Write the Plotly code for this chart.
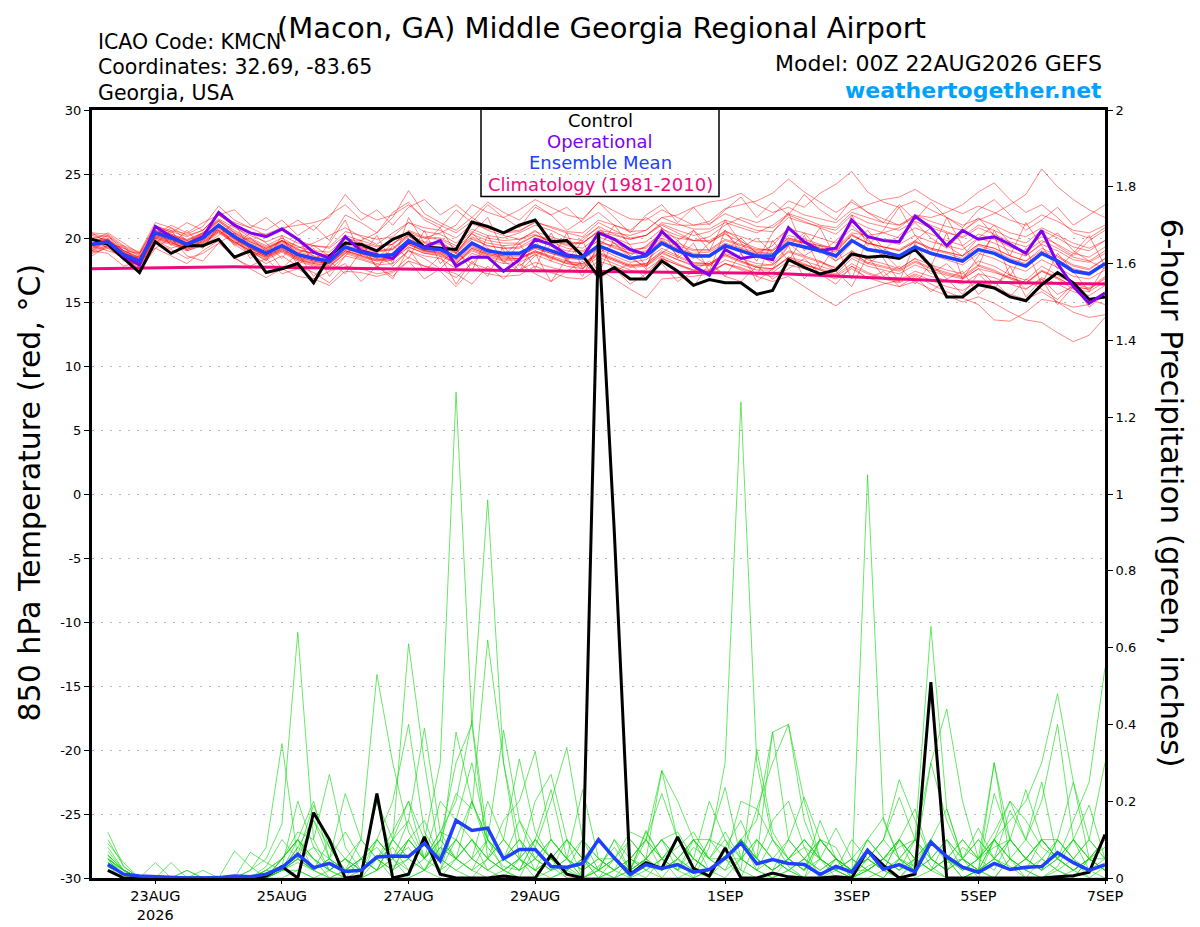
import pandas as pd
import plotly.graph_objects as go

# 6-hourly valid times, 00Z 22AUG2026 -> 00Z 7SEP2026
times = pd.date_range('2026-08-22 00:00', periods=65, freq='6h')
precip_times = times[1:]

tick_dates = ['2026-08-23', '2026-08-25', '2026-08-27', '2026-08-29',
              '2026-09-01', '2026-09-03', '2026-09-05', '2026-09-07']
tick_text = ['23AUG<br>2026', '25AUG', '27AUG', '29AUG', '1SEP', '3SEP', '5SEP', '7SEP']
temp_ticks = [-30, -25, -20, -15, -10, -5, 0, 5, 10, 15, 20, 25, 30]
temp_tick_text = ['-30', '-25', '-20', '-15', '-10', '-5', '0', '5', '10', '15', '20', '25', '30']

# 850 hPa temperature (C)
control_t = [19.9, 19.5, 18.4, 17.3, 19.7, 18.8, 19.4, 19.4, 19.9, 18.5, 19.0, 17.3, 17.6,
             18.0, 16.5, 18.6, 19.6, 19.5, 19.0, 19.9, 20.4, 19.3, 19.2, 19.1, 21.25, 20.9,
             20.4, 21.0, 21.4, 19.7, 19.8, 18.6, 17.0, 17.7, 16.8, 16.8, 18.2, 17.4, 16.3,
             16.75, 16.5, 16.5, 15.6, 15.9, 18.3, 17.7, 17.2, 17.5, 18.75, 18.5, 18.6, 18.4,
             19.1, 17.8, 15.4, 15.4, 16.35, 16.1, 15.4, 15.1, 16.35, 17.3, 16.5, 15.2, 15.4]
oper_t = [19.5, 19.7, 18.6, 17.9, 20.9, 20.1, 19.5, 20.1, 22.0, 21.0, 20.4, 20.1, 20.7,
          19.9, 18.9, 18.4, 20.1, 19.0, 18.7, 18.4, 19.7, 19.3, 19.8, 17.8, 18.5, 18.5,
          17.4, 18.3, 19.9, 19.5, 18.7, 18.5, 20.4, 19.9, 19.1, 18.7, 20.5, 19.4, 17.8,
          17.1, 19.1, 18.4, 18.6, 18.3, 20.8, 19.7, 19.0, 19.2, 21.4, 20.1, 19.8, 19.7,
          21.7, 20.8, 19.4, 20.6, 19.9, 20.1, 19.5, 18.8, 20.6, 18.0, 16.2, 14.9, 15.7]
mean_t = [19.5, 19.7, 18.7, 18.2, 20.4, 20.0, 19.5, 20.0, 21.0, 20.1, 19.4, 18.8, 19.4,
          18.7, 18.4, 18.2, 19.3, 18.9, 18.6, 18.7, 19.8, 19.2, 19.1, 18.5, 19.6, 19.0,
          18.8, 18.8, 19.4, 19.0, 18.6, 18.5, 19.4, 18.9, 18.4, 18.6, 19.6, 19.0, 18.6,
          18.6, 19.4, 19.0, 18.6, 18.6, 19.6, 19.3, 19.0, 18.6, 19.8, 19.1, 18.9, 18.6,
          19.3, 18.8, 18.5, 18.2, 19.1, 18.8, 18.2, 17.8, 18.8, 18.2, 17.4, 17.2, 18.0]
clim_t = [17.6, 17.62, 17.64, 17.66, 17.68, 17.7, 17.72, 17.74, 17.76, 17.75, 17.74, 17.72, 17.7,
          17.68, 17.66, 17.64, 17.62, 17.6, 17.58, 17.56, 17.54, 17.52, 17.5, 17.49, 17.48, 17.47,
          17.46, 17.45, 17.44, 17.43, 17.42, 17.41, 17.4, 17.39, 17.38, 17.37, 17.36, 17.35, 17.34,
          17.33, 17.32, 17.31, 17.3, 17.24, 17.18, 17.12, 17.06, 17.0, 16.94, 16.88, 16.82, 16.76,
          16.7, 16.64, 16.6, 16.58, 16.56, 16.54, 16.52, 16.5, 16.48, 16.46, 16.44, 16.42, 16.4]

member_t = [
    [20.2, 19.8, 19.0, 18.5, 20.6, 20.3, 19.9, 20.4, 21.4, 20.6, 19.9, 19.3, 19.8,
     19.2, 19.6, 20.2, 20.8, 20.1, 19.5, 20.4, 21.2, 20.5, 20.3, 19.6, 20.7, 20.2,
     20.0, 20.4, 21.0, 20.6, 20.0, 19.8, 20.9, 20.3, 19.9, 20.2, 21.1, 20.6, 20.2,
     20.5, 21.2, 20.8, 20.4, 21.0, 21.9, 21.5, 21.0, 20.8, 22.0, 21.6, 21.2, 21.0,
     21.8, 21.3, 20.9, 20.6, 21.4, 21.9, 22.6, 23.4, 25.4, 24.0, 23.0, 22.2, 21.6],
    [19.0, 19.4, 18.3, 17.9, 20.0, 19.6, 19.2, 19.8, 20.7, 19.8, 19.1, 18.6, 19.2,
     18.4, 18.1, 18.0, 19.0, 18.7, 18.3, 18.5, 19.5, 19.0, 18.9, 18.2, 19.3, 18.8,
     18.6, 18.6, 19.2, 18.8, 18.5, 18.3, 19.6, 19.4, 19.0, 19.3, 20.4, 20.0, 19.8,
     20.1, 21.0, 21.6, 21.2, 21.8, 22.9, 22.4, 23.5, 24.2, 25.2, 23.6, 22.8, 22.4,
     22.9, 22.2, 21.6, 21.0, 21.5, 21.0, 20.4, 20.1, 20.8, 20.2, 19.6, 19.2, 19.8],
    [18.8, 19.2, 18.4, 17.8, 19.8, 19.5, 19.0, 19.5, 20.4, 19.6, 18.9, 18.3, 18.9,
     18.2, 17.8, 17.5, 18.6, 18.3, 17.9, 18.0, 19.0, 18.6, 18.4, 17.6, 18.8, 18.4,
     18.0, 18.1, 18.7, 18.2, 17.8, 17.6, 18.5, 18.0, 17.5, 17.2, 18.4, 17.9, 17.4,
     17.3, 18.0, 17.7, 17.2, 17.0, 17.9, 17.6, 17.2, 16.8, 17.6, 16.9, 16.5, 16.2,
     16.6, 16.0, 15.5, 15.0, 15.4, 14.9, 14.2, 13.6, 13.4, 12.6, 11.9, 12.4, 13.8],
    [19.8, 20.0, 19.0, 18.4, 20.2, 19.8, 19.3, 19.7, 20.6, 19.7, 19.0, 18.4, 19.0,
     18.3, 17.9, 17.7, 18.8, 18.4, 18.0, 18.3, 19.3, 18.8, 18.7, 18.0, 19.1, 18.6,
     18.3, 18.4, 18.9, 18.5, 18.0, 17.9, 18.8, 18.3, 17.8, 17.9, 18.8, 18.3, 17.8,
     17.9, 18.6, 18.1, 17.7, 17.6, 18.5, 18.0, 17.5, 17.0, 17.8, 17.2, 16.8, 16.5,
     17.1, 16.4, 15.8, 15.3, 14.8, 13.6, 13.5, 14.2, 15.2, 15.0, 14.6, 14.8, 15.6],
    [20.3, 20.1, 19.2, 18.7, 20.8, 20.5, 20.1, 20.6, 21.8, 21.0, 20.4, 20.3, 20.8,
     21.0, 21.2, 21.6, 23.4, 22.0, 21.4, 21.8, 22.6, 21.6, 21.0, 20.4, 21.3, 20.6,
     20.2, 19.9, 20.3, 19.7, 19.2, 19.0, 19.8, 19.2, 18.8, 18.9, 19.8, 19.2, 18.8,
     18.9, 19.6, 19.2, 18.9, 18.8, 19.9, 19.6, 19.2, 18.9, 20.2, 19.6, 19.3, 19.1,
     19.8, 19.2, 18.9, 18.6, 19.5, 19.2, 18.6, 18.2, 19.0, 18.5, 17.8, 17.5, 18.4],
    [19.6, 19.9, 18.9, 18.3, 20.5, 20.2, 19.7, 20.2, 21.3, 20.4, 19.7, 19.2, 19.7,
     19.0, 18.8, 18.7, 19.9, 19.8, 20.4, 21.6, 23.7, 21.9, 21.2, 20.6, 21.6, 20.8,
     20.4, 20.5, 21.3, 20.8, 20.4, 20.1, 21.2, 20.6, 20.0, 20.2, 21.0, 20.4, 19.8,
     19.7, 20.3, 19.7, 19.2, 19.0, 20.0, 19.6, 19.2, 18.7, 19.8, 19.2, 18.9, 18.5,
     19.2, 18.7, 18.3, 17.9, 18.8, 18.4, 17.8, 17.4, 18.3, 17.7, 17.0, 16.8, 17.5],
    [19.2, 19.5, 18.5, 18.0, 20.0, 19.7, 19.1, 19.6, 20.5, 19.5, 18.7, 18.0, 18.6,
     17.8, 17.3, 16.5, 17.8, 17.6, 17.2, 17.4, 18.5, 17.8, 17.4, 16.2, 17.6, 17.2,
     17.0, 17.1, 17.8, 17.3, 16.9, 16.8, 17.6, 16.8, 16.0, 15.3, 16.8, 16.9, 17.0,
     17.2, 18.0, 17.6, 17.2, 17.3, 18.2, 17.9, 17.6, 17.2, 18.4, 17.8, 17.5, 17.2,
     17.9, 17.4, 17.1, 16.8, 17.6, 17.3, 16.9, 16.5, 17.4, 16.9, 16.2, 16.0, 16.8],
    [19.9, 19.6, 18.8, 18.4, 20.3, 20.0, 19.6, 20.1, 21.1, 20.3, 19.6, 19.0, 19.6,
     18.9, 18.6, 18.4, 19.5, 19.2, 18.9, 19.1, 20.3, 20.0, 20.4, 21.0, 22.6, 22.0,
     21.6, 22.2, 23.0, 22.4, 21.8, 21.5, 22.8, 22.1, 21.5, 21.4, 22.2, 21.6, 21.0,
     21.1, 21.9, 21.4, 20.9, 20.8, 21.8, 21.3, 20.8, 20.3, 21.4, 20.8, 20.4, 20.0,
     20.8, 20.3, 19.8, 19.4, 20.3, 19.9, 19.3, 18.9, 19.8, 19.2, 18.5, 18.2, 19.0],
    [19.3, 19.6, 18.6, 18.1, 20.1, 19.8, 19.3, 19.8, 20.8, 19.9, 19.2, 18.6, 19.1,
     18.5, 18.2, 18.0, 19.0, 18.6, 18.3, 18.4, 19.5, 18.9, 18.8, 18.1, 19.2, 18.7,
     18.5, 18.4, 19.0, 18.6, 18.2, 18.0, 18.9, 18.4, 17.9, 18.0, 19.0, 18.5, 18.0,
     18.0, 18.8, 18.4, 18.0, 17.9, 19.0, 18.6, 18.2, 17.6, 19.0, 18.3, 18.0, 17.6,
     18.4, 17.9, 17.5, 17.2, 18.2, 17.8, 17.1, 16.7, 17.8, 17.1, 16.4, 16.1, 17.0],
    [19.7, 19.8, 18.9, 18.4, 20.4, 20.1, 19.6, 20.0, 21.0, 20.2, 19.5, 18.9, 19.5,
     18.8, 18.5, 18.3, 19.4, 19.0, 18.7, 18.8, 19.9, 19.4, 19.3, 18.8, 19.9, 19.4,
     19.2, 19.3, 20.0, 19.8, 19.5, 19.6, 20.6, 20.4, 20.2, 20.6, 21.6, 21.8, 22.4,
     22.8, 23.0, 23.5, 22.6, 22.0, 22.4, 21.8, 21.5, 21.2, 22.2, 22.6, 23.0, 23.2,
     23.8, 23.0, 22.4, 21.9, 22.5, 22.0, 21.4, 21.0, 21.8, 21.3, 20.6, 20.4, 21.0],
    [19.1, 19.4, 18.4, 17.8, 19.9, 19.6, 19.1, 19.6, 20.5, 19.7, 19.0, 18.5, 19.0,
     18.3, 18.0, 17.8, 18.9, 18.5, 18.2, 18.3, 19.3, 18.8, 18.6, 18.0, 19.0, 18.5,
     18.2, 18.3, 18.9, 18.4, 18.0, 17.8, 18.7, 18.2, 17.7, 17.8, 18.6, 18.0, 17.5,
     17.4, 18.0, 17.5, 17.0, 16.6, 17.0, 16.2, 15.4, 14.7, 15.6, 16.0, 16.4, 16.7,
     17.4, 17.0, 16.7, 16.4, 17.2, 16.9, 16.4, 16.0, 16.9, 16.4, 15.8, 15.5, 16.3],
    [19.4, 19.9, 18.8, 18.3, 20.6, 20.2, 19.6, 20.3, 21.4, 20.5, 19.8, 19.2, 19.8,
     19.1, 18.8, 18.6, 19.7, 19.3, 19.0, 19.2, 20.2, 19.7, 19.6, 19.0, 20.1, 19.6,
     19.4, 19.5, 20.2, 19.9, 19.6, 19.6, 20.5, 20.2, 19.9, 20.2, 21.2, 21.0, 21.0,
     21.3, 22.3, 22.6, 22.9, 23.5, 24.6, 23.6, 22.8, 22.0, 22.8, 22.0, 21.5, 21.0,
     21.6, 21.0, 20.5, 20.0, 20.8, 20.3, 19.7, 19.3, 20.1, 19.5, 18.8, 18.5, 19.3],
    [19.8, 19.9, 19.0, 18.5, 20.8, 20.3, 19.8, 20.3, 21.3, 20.4, 19.7, 19.1, 19.8,
     19.1, 18.8, 18.6, 19.7, 19.3, 19.0, 19.1, 20.1, 19.6, 19.5, 18.9, 20.0, 19.4,
     19.2, 19.2, 19.8, 19.4, 19.0, 18.9, 19.8, 19.3, 18.8, 19.0, 20.0, 19.4, 19.0,
     19.0, 19.8, 19.4, 19.0, 19.0, 20.0, 19.7, 19.4, 19.0, 20.2, 19.6, 19.3, 19.0,
     19.7, 19.2, 18.9, 18.6, 19.5, 19.2, 18.6, 18.2, 19.2, 18.6, 17.9, 17.6, 18.4],
    [18.9, 19.3, 18.3, 17.7, 19.6, 19.1, 18.4, 18.8, 19.6, 18.5, 17.6, 16.9, 17.6,
     17.0, 16.8, 16.3, 17.4, 17.3, 17.0, 17.3, 18.2, 17.8, 17.6, 16.9, 18.0, 17.6,
     17.4, 17.5, 18.1, 17.7, 17.4, 17.3, 18.2, 17.8, 17.3, 17.5, 18.4, 17.9, 17.5,
     17.5, 18.3, 17.9, 17.5, 17.5, 18.5, 18.2, 17.8, 17.4, 18.6, 18.0, 17.7, 17.4,
     18.1, 17.6, 17.2, 16.9, 17.8, 17.4, 16.8, 16.4, 17.4, 16.8, 16.0, 15.8, 16.6],
    [20.0, 20.2, 19.3, 18.8, 20.9, 20.6, 20.3, 20.9, 22.5, 21.4, 20.8, 20.2, 20.6,
     19.8, 19.4, 19.2, 20.2, 19.8, 19.4, 19.5, 20.5, 20.0, 19.9, 19.2, 20.3, 19.8,
     19.6, 19.6, 20.2, 19.8, 19.4, 19.2, 20.1, 19.6, 19.1, 19.2, 20.2, 19.6, 19.1,
     19.1, 19.9, 19.5, 19.1, 19.1, 20.2, 19.9, 19.5, 19.1, 20.3, 19.6, 19.3, 19.0,
     19.7, 19.1, 18.8, 18.4, 19.4, 19.0, 18.4, 18.0, 18.9, 18.3, 17.6, 17.3, 18.1],
    [19.5, 19.6, 18.6, 18.1, 20.2, 19.9, 19.4, 19.9, 20.9, 20.0, 19.3, 18.7, 19.3,
     18.6, 18.3, 18.1, 19.2, 18.8, 18.5, 18.6, 19.7, 19.1, 19.0, 18.4, 19.5, 19.0,
     18.8, 18.8, 19.4, 19.0, 18.6, 18.5, 19.4, 18.9, 18.4, 18.6, 19.6, 19.1, 18.7,
     18.7, 19.5, 19.1, 18.8, 18.8, 19.8, 19.6, 19.4, 19.2, 20.4, 20.2, 20.4, 20.8,
     21.8, 21.6, 22.0, 22.6, 23.6, 24.3, 23.0, 22.0, 22.6, 21.6, 20.4, 20.0, 20.8],
    [19.6, 19.5, 18.5, 18.0, 20.1, 19.7, 19.2, 19.7, 20.6, 19.7, 19.0, 18.5, 19.1,
     18.4, 18.0, 17.9, 19.0, 18.6, 18.2, 18.4, 19.5, 19.0, 18.8, 18.0, 19.2, 18.7,
     18.4, 18.4, 19.0, 18.5, 18.1, 18.0, 18.8, 18.3, 17.8, 18.0, 18.9, 18.3, 17.9,
     17.9, 18.7, 18.2, 17.8, 17.9, 18.9, 18.5, 18.1, 17.7, 18.8, 18.1, 17.8, 17.5,
     18.2, 17.7, 17.3, 17.0, 17.9, 17.5, 16.9, 16.5, 17.5, 16.9, 16.2, 16.0, 16.9],
    [19.2, 19.7, 18.8, 18.3, 20.5, 20.2, 19.8, 20.4, 21.5, 20.8, 20.2, 19.7, 20.2,
     19.6, 19.4, 19.3, 20.5, 20.2, 19.9, 20.1, 21.2, 20.8, 20.6, 20.0, 21.1, 20.7,
     20.5, 20.6, 21.2, 20.9, 20.5, 20.4, 21.4, 21.0, 20.5, 20.6, 21.6, 21.1, 20.7,
     20.7, 21.4, 21.0, 20.6, 20.5, 21.6, 21.2, 20.9, 20.6, 21.8, 21.2, 20.9, 20.6,
     21.3, 20.8, 20.4, 20.1, 21.0, 20.6, 20.0, 19.6, 20.6, 20.0, 19.3, 19.0, 19.8],
    [19.4, 19.8, 18.8, 18.2, 20.3, 19.9, 19.4, 19.9, 20.9, 19.9, 19.2, 18.6, 19.2,
     18.5, 18.2, 18.0, 19.1, 18.8, 18.4, 18.5, 19.6, 19.0, 18.9, 18.3, 19.4, 18.8,
     18.6, 18.6, 19.2, 18.8, 18.4, 18.3, 19.2, 18.6, 18.1, 18.3, 19.2, 18.6, 18.1,
     18.0, 18.7, 18.2, 17.7, 17.6, 18.4, 17.9, 17.5, 17.1, 18.0, 17.3, 16.9, 16.6,
     17.2, 16.7, 16.2, 15.9, 16.6, 16.2, 15.6, 15.2, 15.8, 15.0, 14.2, 13.8, 14.0],
    [20.4, 20.3, 19.4, 18.9, 21.2, 20.8, 20.2, 20.6, 21.8, 20.9, 20.0, 19.4, 20.0,
     19.3, 19.0, 18.9, 20.0, 19.6, 19.3, 19.5, 20.6, 20.1, 20.0, 19.4, 20.5, 20.0,
     19.8, 19.9, 20.5, 20.1, 19.7, 19.6, 20.5, 20.0, 19.5, 19.7, 20.7, 20.2, 19.8,
     19.8, 20.5, 20.1, 19.7, 19.7, 20.7, 20.4, 20.0, 19.6, 20.7, 20.1, 19.8, 19.5,
     20.2, 19.7, 19.4, 19.1, 20.0, 19.6, 19.0, 18.6, 19.5, 19.0, 18.3, 18.1, 18.8],
    [19.0, 19.9, 18.2, 18.6, 19.6, 20.6, 19.0, 19.4, 20.2, 21.2, 19.0, 18.2, 20.2,
     17.8, 19.2, 17.0, 18.6, 19.8, 17.6, 19.4, 18.4, 20.6, 18.0, 19.2, 17.4, 20.2,
     18.0, 19.6, 17.6, 20.4, 18.2, 19.8, 17.2, 20.0, 18.6, 17.6, 20.8, 18.4, 19.6,
     17.4, 20.6, 18.8, 17.0, 19.8, 18.2, 20.2, 17.6, 19.4, 16.8, 20.0, 18.4, 16.6,
     19.6, 17.8, 20.4, 16.8, 18.6, 20.2, 17.0, 19.2, 16.4, 18.8, 17.4, 15.8, 17.8],
    [20.0, 19.2, 19.4, 17.8, 20.9, 19.4, 20.6, 19.2, 21.0, 19.4, 20.4, 19.6, 18.4,
     20.0, 18.0, 19.6, 21.4, 18.6, 20.2, 18.0, 21.6, 19.6, 20.8, 18.8, 20.4, 21.6,
     19.0, 17.4, 19.8, 18.2, 20.4, 17.6, 19.2, 21.0, 19.4, 17.8, 20.0, 18.6, 20.6,
     19.0, 21.4, 19.6, 18.2, 20.4, 22.0, 19.0, 20.8, 18.4, 21.8, 19.4, 20.6, 22.4,
     20.2, 18.8, 21.6, 19.4, 17.8, 20.6, 18.6, 21.2, 19.4, 17.6, 18.8, 20.2, 17.8],
    [18.6, 19.4, 18.8, 17.4, 19.2, 20.0, 18.6, 18.2, 19.6, 20.4, 18.4, 19.2, 17.6,
     18.8, 17.0, 18.2, 17.2, 19.0, 17.8, 16.8, 19.2, 17.4, 18.6, 16.4, 18.2, 17.0,
     19.4, 17.8, 18.8, 16.6, 18.4, 17.0, 19.6, 17.4, 18.0, 16.8, 18.6, 17.2, 16.2,
     18.0, 17.0, 18.8, 16.6, 17.6, 19.4, 16.8, 18.2, 17.4, 16.2, 18.6, 17.0, 17.8,
     16.4, 18.0, 16.8, 15.6, 17.2, 16.0, 17.8, 15.4, 16.8, 14.8, 16.2, 15.0, 15.8],
    [19.8, 20.4, 19.6, 18.8, 21.0, 20.4, 21.2, 20.6, 21.8, 22.2, 21.0, 20.6, 21.4,
     20.2, 21.0, 19.8, 21.8, 21.2, 20.4, 22.0, 22.8, 21.4, 20.8, 22.2, 21.2, 22.6,
     21.6, 20.8, 22.4, 21.8, 20.6, 21.4, 22.8, 21.6, 20.4, 21.8, 22.6, 21.2, 22.4,
     21.0, 22.2, 23.2, 21.6, 22.8, 21.8, 23.4, 22.2, 21.4, 23.0, 22.0, 21.2, 22.6,
     21.4, 22.8, 21.6, 20.8, 22.2, 23.0, 21.8, 20.6, 21.4, 22.4, 21.0, 21.8, 22.6],
    [19.0, 18.8, 17.8, 18.2, 19.2, 18.6, 18.0, 19.0, 19.8, 18.4, 17.8, 18.4, 17.2,
     17.6, 16.8, 17.4, 18.0, 16.6, 17.8, 17.0, 18.2, 16.8, 17.6, 17.2, 16.4, 17.8,
     16.8, 18.0, 17.2, 16.6, 17.4, 18.2, 16.8, 17.6, 16.4, 17.2, 18.0, 16.6, 17.4,
     18.2, 17.0, 16.6, 17.8, 16.8, 17.6, 18.4, 17.2, 16.4, 17.8, 16.8, 17.4, 16.2,
     17.0, 15.8, 16.8, 17.4, 15.6, 16.6, 15.4, 16.8, 16.0, 15.2, 16.4, 14.6, 15.6],
    [19.6, 20.2, 19.0, 18.8, 20.2, 21.0, 20.4, 21.2, 21.8, 21.2, 20.8, 21.6, 20.6,
     21.4, 20.6, 21.8, 22.6, 21.4, 22.2, 21.0, 22.4, 23.0, 21.8, 22.6, 21.6, 22.8,
     22.0, 21.4, 22.6, 21.8, 22.4, 21.2, 22.0, 21.0, 20.6, 21.6, 20.8, 19.8, 20.6,
     19.6, 20.4, 19.2, 20.0, 18.8, 19.6, 18.6, 19.4, 18.2, 19.0, 18.0, 18.8, 17.6,
     18.4, 17.2, 18.0, 16.8, 17.6, 16.4, 17.2, 16.0, 16.8, 15.6, 16.2, 15.2, 14.8],
    [19.4, 19.0, 18.6, 18.0, 19.8, 19.2, 19.6, 20.4, 20.6, 19.6, 20.0, 19.0, 19.8,
     18.8, 19.4, 18.6, 20.0, 19.2, 18.4, 19.6, 20.2, 19.0, 19.8, 18.8, 20.4, 19.2,
     18.6, 19.8, 20.6, 19.4, 18.8, 20.0, 20.8, 19.6, 18.6, 19.4, 20.4, 19.2, 18.4,
     19.6, 20.6, 19.8, 18.8, 19.4, 20.8, 19.6, 18.8, 19.8, 21.0, 19.8, 19.0, 20.2,
     21.2, 20.0, 19.2, 20.4, 21.6, 20.2, 19.4, 18.8, 20.4, 19.4, 18.6, 19.8, 20.6],
    [20.4, 19.6, 19.2, 18.6, 20.0, 20.8, 19.8, 19.2, 20.8, 20.0, 19.2, 18.6, 19.8,
     19.4, 18.6, 17.8, 18.8, 19.6, 18.8, 17.8, 19.0, 18.4, 17.6, 18.8, 18.0, 19.2,
     18.2, 17.4, 18.6, 19.4, 18.2, 17.6, 18.8, 19.6, 18.4, 17.8, 18.8, 19.8, 18.6,
     17.8, 19.0, 20.0, 18.8, 18.0, 19.4, 20.4, 19.0, 18.2, 19.6, 20.6, 19.2, 18.4,
     19.8, 20.8, 19.4, 18.6, 20.0, 21.0, 19.6, 18.6, 19.6, 20.4, 19.0, 18.2, 17.6],
]

# 6-hour precipitation (inches), from 06Z 22AUG
control_p = [.02, 0, 0, 0, 0, 0, 0, 0, 0, 0, .005, .03, 0, .17, .1, 0,
             .005, .22, 0, .01, .107, .01, 0, 0, 0, .005, 0, 0, .06, .01, 0, 1.68,
             .9, .01, .04, .025, .107, .025, .005, .078, 0, 0, .013, .003, 0, 0, .003, 0,
             .072, .033, 0, .01, .51, 0, 0, 0, 0, 0, 0, 0, .003, .006, .015, .113]
mean_p = [.035, .01, .005, .003, .003, 0, 0, .001, .005, .003, .01, .027, .062, .027, .038, .017,
          .02, .055, .057, .056, .09, .045, .15, .124, .13, .05, .074, .074, .03, .028, .038, .1,
          .052, .009, .035, .025, .035, .015, .022, .052, .091, .037, .048, .038, .035, .009, .03, .015,
          .072, .023, .035, .016, .093, .056, .028, .015, .038, .022, .028, .03, .066, .04, .02, .035]

member_p = [
    [.12, .03, 0, 0, 0, 0, 0, 0, 0, .02, .05, .14, .64, .1, .02, 0,
     0, .05, .12, .2, .1, .3, 1.265, .4, .05, .02, 0, .08, .03, 0, 0, .02,
     0, 0, .05, .1, .02, 0, .08, .3, 1.24, .3, .1, .03, 0, .05, 0, 0,
     .02, 0, .05, .1, .03, 0, 0, .02, .3, .05, 0, 0, .03, .1, .02, 0],
    [.08, .02, 0, 0, 0, 0, 0, 0, 0, 0, .02, .05, .1, .2, .05, 0,
     0, .02, .1, .15, .05, .1, .3, .4, .985, .3, .05, .02, 0, .02, .05, 0,
     0, .02, .12, .05, 0, 0, .02, .05, 0, .1, .05, .02, 0, .1, .05, 0,
     .03, .05, .08, .1, .655, .18, .05, 0, .1, .2, .15, .08, .05, .15, .25, .547],
    [.05, 0, 0, .04, 0, .02, 0, 0, .07, .03, 0, .02, .05, .15, .08, .02,
     .02, .2, .1, .61, .3, .05, .1, .2, .08, .03, .02, .1, .05, 0, 0, .03,
     .08, .02, .05, .28, .1, .05, .02, .05, .1, .05, .15, .2, .08, .05, .02, 0,
     1.05, .15, .05, .03, .1, .04, .05, .02, .1, .15, .2, .3, .48, .25, .1, .05],
    [.04, .02, 0, 0, 0, 0, 0, 0, 0, 0, 0, .03, .2, .08, .05, .02,
     .1, .53, .3, .12, .05, .1, .22, .18, .62, .3, .1, .05, .02, .03, 0, 0,
     .02, 0, .05, .1, .05, .02, .1, .08, .15, .05, .38, .4, .2, .05, .02, 0,
     .05, .02, 0, .04, .1, .05, 0, .02, .05, .03, 0, .05, .02, 0, .05, .02],
    [.06, 0, 0, 0, 0, 0, 0, 0, 0, .02, .08, .35, .05, .02, .1, .05,
     0, .1, .2, .4, .12, .05, .1, .05, .02, 0, .05, .02, .05, .1, 0, .02,
     0, .05, .03, .02, .1, .05, .02, .05, .1, .02, 0, .05, .08, 0, .05, .02,
     .1, .05, .02, .1, .3, .44, .2, .05, .3, .1, .05, .02, .1, .05, 0, .03],
    [.03, .01, 0, 0, 0, 0, 0, 0, 0, 0, 0, .05, .1, .05, 0, .02,
     .05, .1, .05, .15, .39, .12, .2, .41, .1, .05, .02, .05, .1, .05, 0, 0,
     .05, .02, 0, .05, .08, .12, .05, .05, .1, .15, .38, .1, .05, .02, .05, .02,
     .05, .02, .1, .05, .02, .05, .1, .05, .08, .1, .23, .1, .05, .02, .05, .1],
    [.1, .03, 0, 0, 0, 0, 0, 0, 0, 0, .03, .1, .05, .02, .05, .12,
     .05, .08, .03, .05, .1, .02, .15, .3, .1, .385, .15, .05, .02, .1, .05, 0,
     .02, .1, .05, .02, .05, .1, .05, .1, .02, .335, .12, .05, .02, .1, .08, 0,
     .02, .05, .1, .02, .05, .1, .02, .05, .12, .2, .1, .2, .4, .1, .05, .02],
    [.06, .02, 0, 0, 0, 0, 0, 0, 0, 0, .02, .05, .12, .1, .27, .08,
     .02, .1, .05, .08, .02, .1, .05, .2, .1, .05, .15, .08, .2, .34, .1, .02,
     .05, .02, .1, .05, .02, .08, .05, .12, .05, .02, .1, .05, .02, .15, .05, .02,
     .05, .1, .256, .15, .05, .02, .08, .05, .1, .02, .05, .1, .05, .02, .05, .08],
    [.05, 0, 0, 0, 0, 0, 0, 0, 0, 0, 0, .02, .08, .05, .02, .05,
     .02, .05, .1, .2, .05, .12, .1, .05, .2, .1, .31, .12, .05, .02, .05, .1,
     .05, .12, .1, .28, .2, .1, .05, .02, .1, .05, .02, .05, .1, .05, .02, .05,
     .1, .05, .02, .05, .1, .05, .02, .05, .1, .05, .1, .25, .05, .02, .05, .1],
    [.09, .04, 0, 0, 0, 0, 0, 0, 0, 0, 0, .02, .05, .02, 0, 0,
     .05, .02, .1, .05, .02, .08, .05, .1, .05, .15, .2, .33, .1, .05, .23, .05,
     .02, .05, .1, .05, .02, .1, .1, .236, .05, .1, .05, .02, .05, .1, .05, .02,
     .02, .05, .1, .05, .02, .1, .05, .02, .22, .1, .05, .02, .05, .1, .05, .02],
    [.05, .02, 0, 0, .04, 0, .02, 0, 0, 0, 0, .05, .1, .02, .05, .22,
     .1, .05, .02, .1, .05, .2, .15, .1, .05, .1, .05, .2, .27, .1, .05, .02,
     .1, .02, .05, .1, .05, .02, .1, .05, .2, .18, .3, .4, .15, .05, .02, .1,
     .05, .02, .1, .05, .02, .05, .1, .05, .02, .1, .05, .1, .1, .25, .05, .02],
    [.07, .02, 0, 0, 0, 0, 0, 0, 0, .067, .04, .02, .1, .05, .02, .05,
     .02, .2, .05, .1, .15, .05, .38, .2, .1, .05, .02, .1, .05, .02, .1, .05,
     .02, .05, .1, .02, .05, .1, .02, .05, .1, .05, .02, .05, .1, .05, .13, .05,
     .02, .05, .1, .05, .3, .15, .05, .02, .1, .05, .02, .1, .05, .1, .05, .02],
    [.04, .01, 0, 0, 0, 0, 0, 0, 0, 0, 0, .02, .04, .02, 0, .02,
     .05, .02, .1, .05, .02, .08, .05, .1, .02, .05, .1, .02, .05, .1, .05, .02,
     .05, .02, .124, .05, .02, .05, .2, .1, .05, .02, .05, .1, .05, .02, .05, .02,
     .1, .157, .05, .02, .05, .1, .05, .02, .05, .1, .05, .02, .1, .05, .1, .3],
    [.03, 0, 0, 0, 0, .02, 0, 0, 0, 0, 0, .02, .05, .02, .05, .02,
     .05, .02, .05, .1, .05, .02, .1, .05, .02, .05, .1, .05, .02, .05, .1, .05,
     .02, .05, .02, .05, .1, .05, .02, .05, .1, .05, .02, .05, .02, .1, .05, .02,
     .05, .02, .05, .1, .05, .02, .05, .13, .05, .02, .05, .1, .05, .02, .05, .05],
    [.05, .02, 0, 0, 0, 0, 0, 0, 0, 0, .02, .02, .08, .15, .05, .02,
     .02, .05, .08, .02, .1, .05, .02, .05, .1, .02, .05, .1, .05, .02, .05, .02,
     .1, .05, .02, .05, .1, .05, .02, .05, .1, .05, .02, .1, .21, .1, .05, .02,
     .05, .1, .21, .1, .05, .02, .05, .1, .05, .176, .1, .05, .02, .05, .1, .05],
    [.06, .02, 0, 0, 0, 0, 0, 0, 0, 0, 0, .05, .1, .05, .02, .05,
     .1, .05, .02, .1, .05, .12, .05, .02, .05, .1, .05, .02, .1, .05, .02, .05,
     .02, .05, .1, .22, .1, .05, .02, .05, .05, .18, .1, .05, .02, .05, .02, .05,
     .02, .05, .02, .05, .1, .18, .05, .02, .05, .1, .05, .02, .05, .1, .19, .05],
    [.04, .01, 0, 0, 0, 0, 0, 0, 0, 0, 0, .02, .05, .08, .02, .05,
     .02, .05, .02, .05, .1, .02, .05, .1, .05, .02, .05, .1, .23, .05, .02, .1,
     .05, .02, .05, .1, .12, .05, .02, .05, .1, .05, .02, .05, .1, .05, .02, .05,
     .02, .05, .1, .18, .05, .02, .05, .1, .05, .02, .05, .1, .05, .02, .05, .1],
    [.02, 0, 0, 0, 0, 0, 0, 0, 0, 0, 0, 0, .02, 0, 0, 0,
     .02, .05, 0, 0, .02, .05, .02, 0, .05, .02, 0, 0, .02, .05, 0, 0,
     0, .02, .05, 0, 0, .02, 0, .05, .02, 0, 0, .02, 0, 0, .05, 0,
     0, .02, 0, .05, .02, 0, 0, .02, 0, .05, .02, 0, 0, .02, 0, 0],
    [.05, .02, 0, 0, 0, 0, 0, 0, 0, 0, .01, .03, .06, .19, .08, .02,
     .05, .1, .05, .02, .05, .1, .05, .02, .1, .05, .02, .05, .1, .05, .02, .05,
     .05, .1, .05, .02, .05, .1, .05, .02, .05, .1, .05, .02, .05, .1, .05, .02,
     .05, .1, .05, .02, .1, .05, .02, .05, .1, .05, .02, .05, .1, .05, .02, .05],
    [.03, .01, 0, 0, 0, 0, 0, 0, 0, 0, 0, .02, .02, 0, .02, 0,
     0, .02, .05, 0, .02, 0, .05, .02, 0, .02, .05, 0, 0, .02, 0, .02,
     .05, 0, .02, 0, .05, 0, .02, 0, .05, .02, 0, .02, .05, 0, .02, 0,
     .02, 0, .05, 0, .02, .05, 0, .02, 0, .05, .02, 0, .02, 0, .05, .02],
]

fig = go.Figure()

for m in member_t:
    fig.add_trace(go.Scatter(x=times, y=m, mode='lines', showlegend=False, hoverinfo='skip',
                             line=dict(color='rgba(255,0,0,0.6)', width=0.8)))
fig.add_trace(go.Scatter(x=times, y=clim_t, mode='lines', name='Climatology',
                         line=dict(color='#ee0a7e', width=3)))
fig.add_trace(go.Scatter(x=times, y=control_t, mode='lines', name='Control',
                         line=dict(color='black', width=3)))
fig.add_trace(go.Scatter(x=times, y=oper_t, mode='lines', name='Operational',
                         line=dict(color='#8000f0', width=3)))
fig.add_trace(go.Scatter(x=times, y=mean_t, mode='lines', name='Ensemble Mean',
                         line=dict(color='#2040ff', width=3.5)))

for m in member_p:
    fig.add_trace(go.Scatter(x=precip_times, y=m, mode='lines', yaxis='y2', showlegend=False,
                             hoverinfo='skip', line=dict(color='rgba(20,215,20,0.8)', width=0.8)))
fig.add_trace(go.Scatter(x=precip_times, y=control_p, mode='lines', yaxis='y2',
                         line=dict(color='black', width=3)))
fig.add_trace(go.Scatter(x=precip_times, y=mean_p, mode='lines', yaxis='y2',
                         line=dict(color='#2040ff', width=3.5)))

font = 'DejaVu Sans, Verdana, sans-serif'

# page pixel -> paper coords (plot area spans x 92..1105, y 110..883 on the page)
def px(x):
    return (x - 92) / 1013

def py(y):
    return (883 - y) / 773

notes = [
    dict(x=px(601), y=py(27), text='(Macon, GA) Middle Georgia Regional Airport', size=29, color='black', xanchor='center'),
    dict(x=px(96), y=py(42), text='ICAO Code: KMCN', size=20.5, color='black', xanchor='left'),
    dict(x=px(96), y=py(67), text='Coordinates: 32.69, -83.65', size=20.5, color='black', xanchor='left'),
    dict(x=px(96), y=py(93), text='Georgia, USA', size=20.5, color='black', xanchor='left'),
    dict(x=px(1104), y=py(63), text='Model: 00Z 22AUG2026 GEFS', size=22, color='black', xanchor='right'),
    dict(x=px(1104), y=py(90), text='<b>weathertogether.net</b>', size=22, color='#00a2ff', xanchor='right'),
    dict(x=px(600), y=py(121), text='Control', size=18, color='black', xanchor='center'),
    dict(x=px(600), y=py(142), text='Operational', size=18, color='#8000f0', xanchor='center'),
    dict(x=px(600), y=py(163), text='Ensemble Mean', size=18, color='#2040ff', xanchor='center'),
    dict(x=px(600), y=py(185), text='Climatology (1981-2010)', size=18, color='#ee0a7e', xanchor='center'),
]
for n in notes:
    fig.add_annotation(x=n['x'], y=n['y'], xref='paper', yref='paper', text=n['text'],
                       showarrow=False, xanchor=n['xanchor'], yanchor='middle',
                       font=dict(family=font, size=n['size'], color=n['color']))

fig.add_annotation(x=px(30), y=py(495), xref='paper', yref='paper', showarrow=False,
                   text='850 hPa Temperature (red, °C)', textangle=-90,
                   xanchor='center', yanchor='middle',
                   font=dict(family=font, size=30, color='black'))
fig.add_annotation(x=px(1172), y=py(495), xref='paper', yref='paper', showarrow=False,
                   text='6-hour Precipitation (green, inches)', textangle=90,
                   xanchor='center', yanchor='middle',
                   font=dict(family=font, size=31, color='black'))

# legend box
fig.add_shape(type='rect', xref='paper', yref='paper',
              x0=px(481), x1=px(719), y0=py(197), y1=py(108),
              line=dict(color='black', width=1.5), fillcolor='white', layer='below')

# the page adds an 8px body margin, so margins are trimmed by 8 on the left/top
fig.update_layout(
    width=1200, height=927,
    margin=dict(l=84, r=103, t=102, b=52),
    paper_bgcolor='white', plot_bgcolor='rgba(0,0,0,0)',
    showlegend=False,
    font=dict(family=font, color='black'),
    xaxis=dict(range=[times[0], times[-1]], tickvals=tick_dates, ticktext=tick_text,
               ticks='outside', ticklen=3, tickwidth=1, tickcolor='black',
               showline=True, linewidth=3, linecolor='black', mirror=True,
               showgrid=False, zeroline=False, tickfont=dict(size=14.5)),
    yaxis=dict(range=[-30, 30], tickvals=temp_ticks, ticktext=temp_tick_text,
               ticks='outside', ticklen=5, tickwidth=1,
               tickcolor='black', showline=True, linewidth=3, linecolor='black',
               showgrid=True, gridcolor='#b4b4b4', gridwidth=1, griddash='2px,7px',
               zeroline=False, tickfont=dict(size=13)),
    yaxis2=dict(range=[0, 2], dtick=0.2, overlaying='y', side='right', ticks='outside',
                ticklen=5, tickwidth=1, tickcolor='black', showline=True, linewidth=3,
                linecolor='black', showgrid=False, zeroline=False, tickfont=dict(size=13)),
)

fig.write_html('out.html')
